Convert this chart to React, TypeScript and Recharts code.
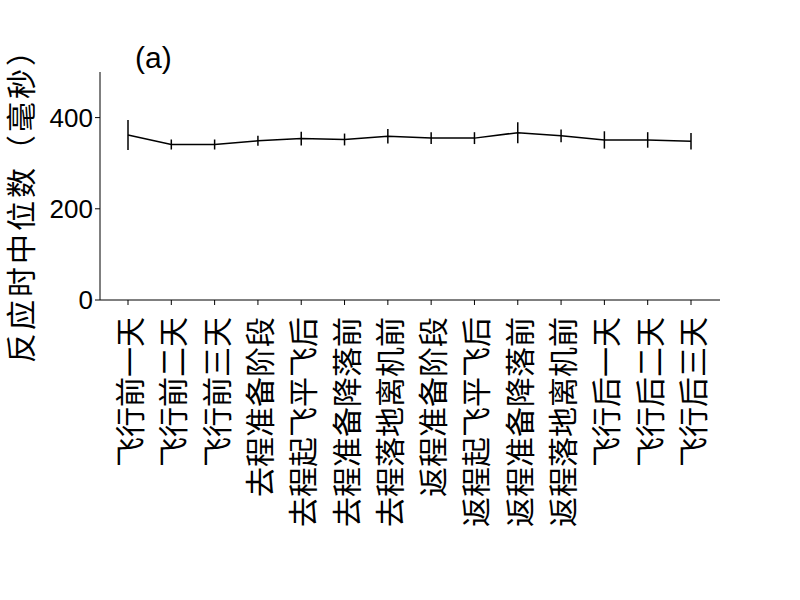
import React from 'react';
import { LineChart, Line, XAxis, YAxis, ErrorBar } from 'recharts';

// 阶段
const stages = [
  '飞行前一天', '飞行前二天', '飞行前三天', '去程准备阶段', '去程起飞平飞后',
  '去程准备降落前', '去程落地离机前', '返程准备阶段', '返程起飞平飞后',
  '返程准备降落前', '返程落地离机前', '飞行后一天', '飞行后二天', '飞行后三天',
];

// 反应时中位数（毫秒）
const medians = [362, 341, 341, 349, 354, 352, 359, 355, 355, 367, 360, 351, 351, 348];
const errors = [33, 11, 11, 11, 15, 13, 16, 13, 13, 23, 14, 19, 17, 18];

const yTicks = [0, 200, 400];

const FONT = '"Liberation Sans", "Noto Sans CJK SC", sans-serif';
const CJK = '"Noto Sans CJK SC", sans-serif';

const data = stages.map((s, i) => ({ stage: s, rt: medians[i], err: errors[i] }));

const StageTick = (props: any) => {
  const { x, y, payload } = props;
  return (
    <text
      x={0}
      y={0}
      transform={`translate(${x},${y + 10}) rotate(-90)`}
      textAnchor="end"
      dominantBaseline="central"
      fontSize={30}
      fontFamily={CJK}
      fill="#000"
    >
      {payload.value}
    </text>
  );
};

const YLabel = (props: any) => {
  const { viewBox } = props;
  const cy = viewBox.y + viewBox.height / 2 + 12;
  return (
    <text
      x={0}
      y={0}
      transform={`translate(19,${cy}) rotate(-90)`}
      textAnchor="middle"
      dominantBaseline="central"
      fontSize={30}
      letterSpacing={3}
      fontFamily={CJK}
      fill="#000"
    >
      反应时中位数（毫秒）
    </text>
  );
};

export default function App() {
  return (
    <div style={{ position: 'absolute', left: 0, top: 0, width: 800, height: 600, background: '#fff' }}>
      <LineChart
        width={800}
        height={600}
        data={data}
        margin={{ top: 72, right: 80, bottom: 0, left: 0 }}
      >
        <XAxis
          dataKey="stage"
          height={300}
          padding={{ left: 28, right: 29 }}
          interval={0}
          tick={<StageTick />}
          tickSize={5}
          axisLine={{ stroke: '#000' }}
          tickLine={{ stroke: '#000' }}
        />
        <YAxis
          width={100}
          domain={[0, 500]}
          ticks={yTicks}
          tickSize={5}
          axisLine={{ stroke: '#000' }}
          tickLine={{ stroke: '#000' }}
          tick={{ fill: '#000', fontSize: 26, fontFamily: FONT }}
          label={<YLabel />}
        />
        <Line
          dataKey="rt"
          stroke="#000"
          strokeWidth={1.5}
          dot={false}
          isAnimationActive={false}
        >
          <ErrorBar dataKey="err" width={0} stroke="#000" strokeWidth={1.5} direction="y" />
        </Line>
      </LineChart>
      <div
        style={{
          position: 'absolute',
          left: 135,
          top: 41,
          fontSize: 30,
          fontFamily: FONT,
          color: '#000',
        }}
      >
        (a)
      </div>
    </div>
  );
}
